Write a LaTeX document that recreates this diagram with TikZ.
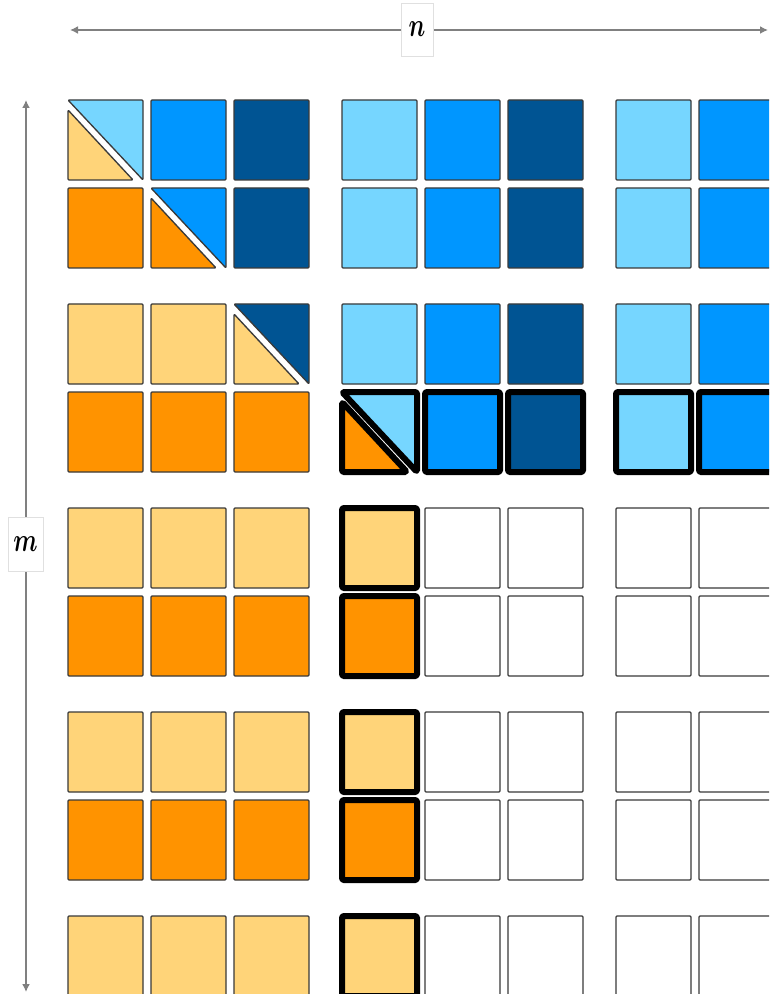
\documentclass[tikz,border=0pt]{standalone}
\usepackage{graphicx}
\usepackage{bm}
\usetikzlibrary{arrows.meta}
\definecolor{sky}{HTML}{76D6FF}
\definecolor{aqua}{HTML}{0096FF}
\definecolor{ocean}{HTML}{005493}
\definecolor{cant}{HTML}{FFD479}
\definecolor{tang}{HTML}{FF9300}
\definecolor{edge}{HTML}{3A3A3A}
\definecolor{dimgray}{HTML}{808080}
\tikzset{
  cellline/.style={draw=edge,line width=1pt,rounded corners=0.75pt,line join=round},
  thickline/.style={draw=black,line width=4.5pt,rounded corners=1.1pt,line join=round},
  dimline/.style={draw=dimgray,line width=1.5pt,{Latex[length=6pt,width=6pt]}-{Latex[length=6pt,width=6pt]}},
  lbl/.style={fill=white,draw=black!12,line width=0.45pt,inner sep=0pt}
}
% \Cell{block}{col}{pair}{row}{fill}{style}
\newcommand\Cell[6]{\path[#6,fill=#5] (68+274*#1+83*#2,100+204*#3+88*#4) rectangle ++(75,80);}
% \Split{block}{col}{pair}{row}{upper}{lower}{style}
\newcommand\Split[7]{%
  \path[#7,fill=#5] (68+274*#1+83*#2,100+204*#3+88*#4) -- ++(75,0) -- ++(0,80) -- cycle;
  \path[#7,fill=#6] (68+274*#1+83*#2,110+204*#3+88*#4) -- ++(0,70) -- ++(65,0) -- cycle;}
\begin{document}
\begin{tikzpicture}[x=0.75pt,y=-0.75pt]
\useasboundingbox (0,0) rectangle (769,994);
\clip (0,0) rectangle (769,994);
\fill[white] (0,0) rectangle (769,994);
% ---- block column 0
\Split{0}{0}{0}{0}{sky}{cant}{cellline}
\Cell{0}{1}{0}{0}{aqua}{cellline}
\Cell{0}{2}{0}{0}{ocean}{cellline}
\Cell{0}{0}{0}{1}{tang}{cellline}
\Split{0}{1}{0}{1}{aqua}{tang}{cellline}
\Cell{0}{2}{0}{1}{ocean}{cellline}
\Cell{0}{0}{1}{0}{cant}{cellline}
\Cell{0}{1}{1}{0}{cant}{cellline}
\Split{0}{2}{1}{0}{ocean}{cant}{cellline}
\foreach \i in {0,1,2}{\Cell{0}{\i}{1}{1}{tang}{cellline}}
\foreach \p in {2,3}{\foreach \i in {0,1,2}{\Cell{0}{\i}{\p}{0}{cant}{cellline}\Cell{0}{\i}{\p}{1}{tang}{cellline}}}
\foreach \i in {0,1,2}{\Cell{0}{\i}{4}{0}{cant}{cellline}}
% ---- block column 1
\foreach \p/\r in {0/0,0/1,1/0}{\Cell{1}{0}{\p}{\r}{sky}{cellline}\Cell{1}{1}{\p}{\r}{aqua}{cellline}\Cell{1}{2}{\p}{\r}{ocean}{cellline}}
\foreach \p in {2,3}{\foreach \r in {0,1}{\Cell{1}{1}{\p}{\r}{white}{cellline}\Cell{1}{2}{\p}{\r}{white}{cellline}}}
\Cell{1}{1}{4}{0}{white}{cellline}
\Cell{1}{2}{4}{0}{white}{cellline}
% ---- block column 2
\foreach \p/\r in {0/0,0/1,1/0}{\Cell{2}{0}{\p}{\r}{sky}{cellline}\Cell{2}{1}{\p}{\r}{aqua}{cellline}}
\foreach \p in {2,3}{\foreach \r in {0,1}{\Cell{2}{0}{\p}{\r}{white}{cellline}\Cell{2}{1}{\p}{\r}{white}{cellline}}}
\Cell{2}{0}{4}{0}{white}{cellline}
\Cell{2}{1}{4}{0}{white}{cellline}
% ---- thick (current) cells
\Split{1}{0}{1}{1}{sky}{tang}{thickline}
\Cell{1}{1}{1}{1}{aqua}{thickline}
\Cell{1}{2}{1}{1}{ocean}{thickline}
\Cell{2}{0}{1}{1}{sky}{thickline}
\Cell{2}{1}{1}{1}{aqua}{thickline}
\foreach \p in {2,3}{\Cell{1}{0}{\p}{0}{cant}{thickline}\Cell{1}{0}{\p}{1}{tang}{thickline}}
\Cell{1}{0}{4}{0}{cant}{thickline}
% ---- dimension arrows
\coordinate (nL) at (70,30);
\coordinate (nR) at (768,30);
\coordinate (mT) at (26,100);
\coordinate (mB) at (26,992);
\draw[dimline] (nL) -- (nR);
\draw[dimline] (mT) -- (mB);
\node[lbl,minimum width=24pt,minimum height=39.75pt] (nlab) at (417,29.5)
  {\fontsize{20}{20}\selectfont\scalebox{0.85}[1.2]{$\bm{n}$}};
\node[lbl,minimum width=26.25pt,minimum height=40.5pt] (mlab) at (25.5,544)
  {\fontsize{20}{20}\selectfont\scalebox{0.85}[1.2]{$\bm{m}$}};
\end{tikzpicture}
\end{document}
